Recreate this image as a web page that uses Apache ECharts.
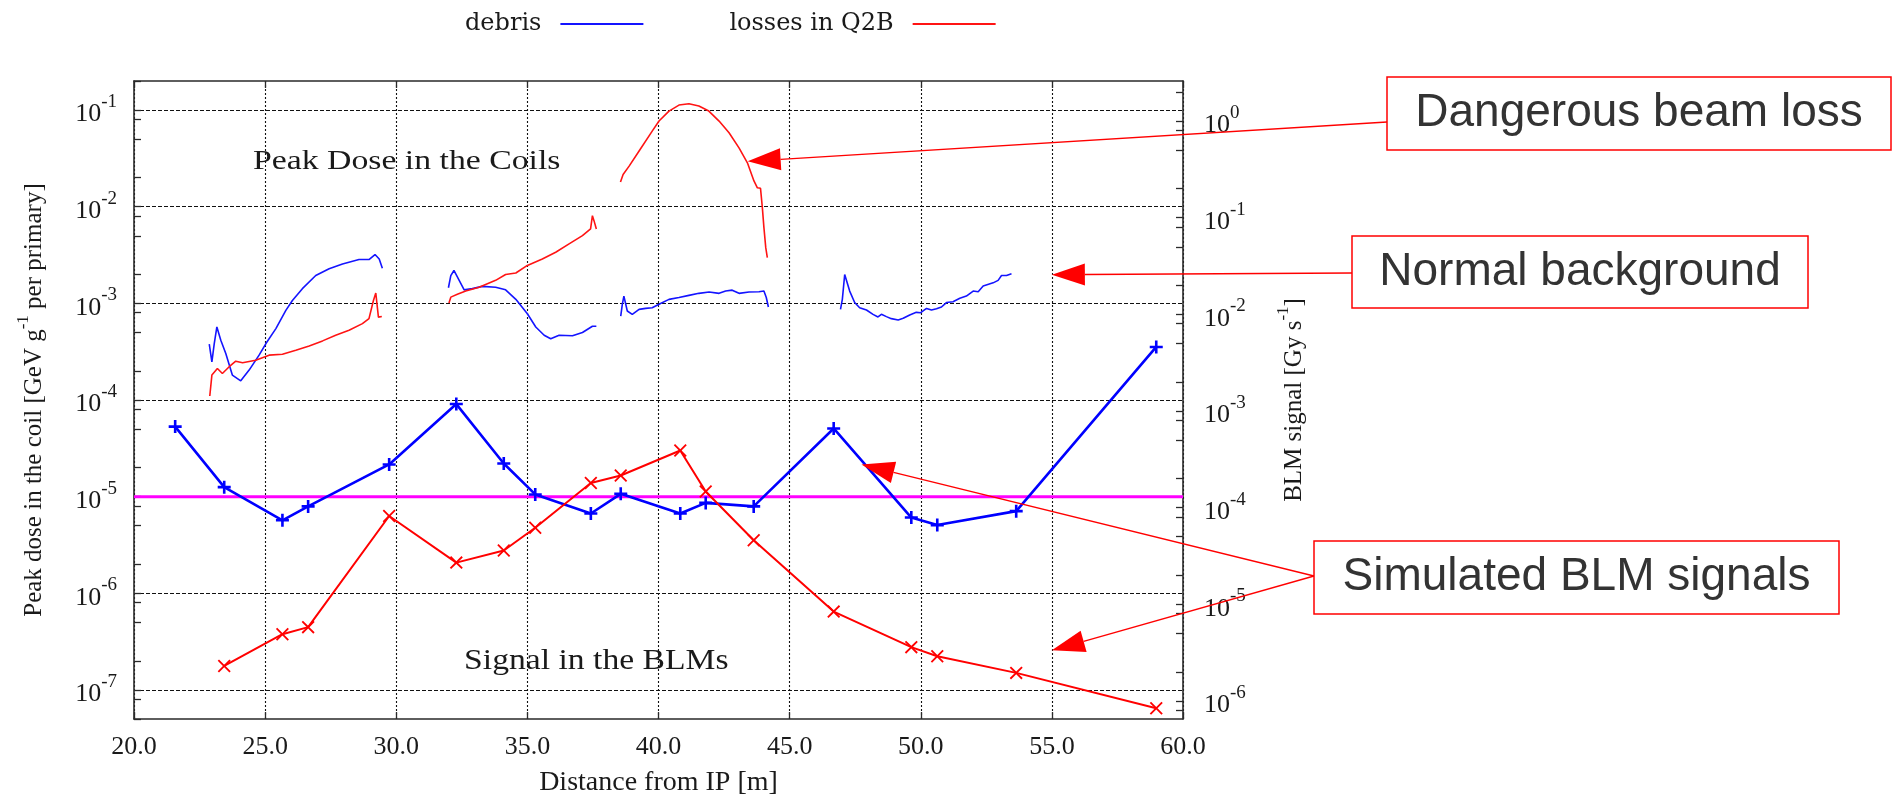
<!DOCTYPE html>
<html>
<head>
<meta charset="utf-8">
<title>Peak dose in the coils and BLM signals</title>
<script src="https://cdn.jsdelivr.net/npm/echarts@6/dist/echarts.min.js"></script>
<style>
  html, body { margin: 0; padding: 0; background: #ffffff; }
  #chart { width: 1894px; height: 795px; }
</style>
</head>
<body>
<div id="chart"></div>
<script>
// ---------------------------------------------------------------------------
// Data
// ---------------------------------------------------------------------------

// Peak dose in the coils [GeV g^-1 per primary], one array per magnet stretch:
// [distance from IP (m), dose]
const debrisSegments = [
  [[22.87,3.78e-4],[22.97,2.48e-4],[23.06,3.84e-4],[23.16,5.7e-4],[23.31,4.16e-4],[23.50,3.03e-4],
   [23.75,1.81e-4],[24.07,1.58e-4],[24.39,2.04e-4],[24.77,2.91e-4],[25.03,3.84e-4],[25.41,5.48e-4],
   [25.79,8.47e-4],[26.04,1.07e-3],[26.42,1.42e-3],[26.93,1.94e-3],[27.44,2.28e-3],[27.95,2.56e-3],
   [28.58,2.84e-3],[28.96,2.84e-3],[29.19,3.2e-3],[29.35,2.88e-3],[29.47,2.31e-3]],
  [[31.99,1.45e-3],[32.08,1.94e-3],[32.20,2.19e-3],[32.40,1.73e-3],[32.59,1.38e-3],[32.90,1.42e-3],
   [33.28,1.50e-3],[33.79,1.47e-3],[34.17,1.38e-3],[34.56,1.10e-3],[35.00,7.8e-4],[35.32,5.7e-4],
   [35.64,4.68e-4],[35.89,4.30e-4],[36.21,4.68e-4],[36.72,4.62e-4],[37.10,5.0e-4],[37.48,5.8e-4],
   [37.63,5.8e-4]],
  [[38.56,7.39e-4],[38.62,9.77e-4],[38.68,1.19e-3],[38.81,8.34e-4],[39.00,7.69e-4],[39.26,8.67e-4],
   [39.51,8.87e-4],[39.76,9.02e-4],[40.02,9.77e-4],[40.40,1.10e-3],[40.78,1.15e-3],[41.16,1.21e-3],
   [41.54,1.27e-3],[41.93,1.31e-3],[42.31,1.27e-3],[42.56,1.34e-3],[42.81,1.37e-3],[43.07,1.27e-3],
   [43.45,1.31e-3],[43.83,1.32e-3],[44.02,1.34e-3],[44.11,1.15e-3],[44.19,9.17e-4]],
  [[46.94,8.67e-4],[47.01,1.10e-3],[47.10,1.99e-3],[47.17,1.99e-3],[47.29,1.34e-3],[47.48,1.02e-3],
   [47.67,9.02e-4],[47.93,8.53e-4],[48.18,7.7e-4],[48.37,7.23e-4],[48.50,7.7e-4],[48.69,7.29e-4],
   [48.88,6.95e-4],[49.14,6.73e-4],[49.33,7.0e-4],[49.58,7.59e-4],[49.83,8.07e-4],[50.00,8.01e-4],
   [50.22,8.87e-4],[50.41,8.53e-4],[50.60,8.81e-4],[50.79,9.17e-4],[50.98,1.02e-3],[51.23,1.04e-3],
   [51.49,1.13e-3],[51.74,1.19e-3],[52.00,1.34e-3],[52.19,1.32e-3],[52.38,1.51e-3],[52.76,1.63e-3],
   [52.95,1.73e-3],[53.08,1.94e-3],[53.27,1.94e-3],[53.46,2.02e-3]]
];

const lossSegments = [
  [[22.89,1.1e-4],[22.97,1.81e-4],[23.18,2.12e-4],[23.37,1.88e-4],[23.63,2.21e-4],[23.88,2.52e-4],
   [24.14,2.43e-4],[24.64,2.58e-4],[25.15,2.91e-4],[25.66,2.98e-4],[26.17,3.27e-4],[26.68,3.63e-4],
   [27.19,4.09e-4],[27.69,4.68e-4],[28.20,5.27e-4],[28.71,6.17e-4],[28.96,6.95e-4],[29.13,1.07e-3],
   [29.22,1.28e-3],[29.32,7.2e-4],[29.45,7.3e-4]],
  [[32.01,1.01e-3],[32.08,1.16e-3],[32.33,1.24e-3],[32.65,1.34e-3],[33.16,1.47e-3],[33.79,1.73e-3],
   [34.17,1.99e-3],[34.56,2.06e-3],[35.00,2.47e-3],[35.57,2.88e-3],[36.08,3.38e-3],[36.59,4.12e-3],
   [37.10,5.02e-3],[37.41,5.89e-3],[37.48,8.07e-3],[37.54,7.18e-3],[37.63,5.89e-3]],
  [[38.55,1.8e-2],[38.65,2.16e-2],[38.88,2.63e-2],[39.26,3.77e-2],[39.76,6.06e-2],[40.02,7.7e-2],
   [40.40,9.77e-2],[40.78,0.1127],[41.16,0.1164],[41.54,0.110],[41.92,9.77e-2],[42.31,7.7e-2],
   [42.69,5.83e-2],[43.07,4.07e-2],[43.39,2.85e-2],[43.64,1.85e-2],[43.77,1.57e-2],[43.89,1.55e-2],
   [43.96,9.78e-3],[44.02,6.07e-3],[44.09,3.77e-3],[44.15,2.97e-3]]
];

// Simulated BLM signals [Gy s^-1] at the monitor positions
const blmPositions = [21.57, 23.44, 25.66, 26.64, 29.73, 32.29, 34.10, 35.30, 37.42,
                      38.56, 40.83, 41.80, 43.63, 46.68, 49.64, 50.63, 53.64, 58.98];
const blmDebris = [6.9e-4, 1.63e-4, 7.4e-5, 1.03e-4, 2.8e-4, 1.18e-3, 2.86e-4, 1.37e-4, 8.7e-5,
                   1.39e-4, 8.7e-5, 1.12e-4, 1.03e-4, 6.6e-4, 7.9e-5, 6.6e-5, 9.2e-5, 4.6e-3];
const blmLosses = [null, 2.3e-6, 4.9e-6, 5.8e-6, 8.2e-5, 2.7e-5, 3.6e-5, 6.2e-5, 1.8e-4,
                   2.15e-4, 3.9e-4, 1.47e-4, 4.6e-5, 8.4e-6, 3.6e-6, 2.9e-6, 1.95e-6, 8.4e-7];

// Dose level drawn as the horizontal reference line
const thresholdDose = 1.0e-5;

// Axis ranges and tick values
const distanceRange = [20, 60];
const doseRange = [5e-8, 0.2];
const blmPerDose = 13;                      // BLM signal per unit coil dose
const doseDecades = [1e-7, 1e-6, 1e-5, 1e-4, 1e-3, 1e-2, 1e-1];
const blmDecades = [1e-6, 1e-5, 1e-4, 1e-3, 1e-2, 1e-1, 1e0];
const minorMultipliers = [2, 5, 8];

// ---------------------------------------------------------------------------
// Helpers
// ---------------------------------------------------------------------------
function joinSegments(segs) {
  const out = [];
  segs.forEach((s, i) => {
    if (i > 0) out.push([(segs[i - 1][segs[i - 1].length - 1][0] + s[0][0]) / 2, null]);
    s.forEach(p => out.push(p));
  });
  return out;
}
function minorTicks(decades) {
  const out = [];
  const first = decades[0] / 10;
  [first].concat(decades).forEach(d => minorMultipliers.forEach(m => out.push(d * m)));
  return out;
}
function powLabel(v) {
  const e = Math.round(Math.log10(v));
  return '{b|10}{s|' + e + '}';
}

const SERIF = 'Liberation Serif';
const TEXT = '#1a1a1a';
const AXIS = '#2a2a2a';
const GRIDLINE = '#111111';
const powRich = {
  b: { fontFamily: SERIF, fontSize: 26, lineHeight: 35, verticalAlign: 'bottom', color: TEXT },
  s: { fontFamily: SERIF, fontSize: 19, lineHeight: 20, verticalAlign: 'top', color: TEXT }
};
const nameRich = {
  a: { fontFamily: SERIF, fontSize: 25, lineHeight: 32, verticalAlign: 'bottom', color: TEXT },
  s: { fontFamily: SERIF, fontSize: 17, lineHeight: 18, verticalAlign: 'top', color: TEXT }
};

const plusPath = 'path://M4,0 H6 V4 H10 V6 H6 V10 H4 V6 H0 V4 H4 Z';
const crossPath = 'path://M0,1 L1,0 L5,4 L9,0 L10,1 L6,5 L10,9 L9,10 L5,6 L1,10 L0,9 L4,5 Z';

const blmRange = [doseRange[0] * blmPerDose, doseRange[1] * blmPerDose];

function logAxis(opts) {
  return Object.assign({
    type: 'log',
    logBase: 10,
    nameMoveOverlap: false,
    axisLine: { show: false },
    axisTick: { show: false },
    axisLabel: { show: false },
    splitLine: { show: false }
  }, opts);
}

// ---------------------------------------------------------------------------
// Chart
// ---------------------------------------------------------------------------
const chart = echarts.init(document.getElementById('chart'));

const option = {
  animation: false,
  backgroundColor: '#ffffff',
  grid: { left: 134, right: 711, top: 81, bottom: 76, containLabel: false, outerBoundsMode: 'none' },
  legend: {
    left: 460, top: 7,
    align: 'right',
    itemWidth: 83, itemHeight: 2, itemGap: 86,
    selectedMode: false,
    textStyle: { fontFamily: 'DejaVu Serif', fontSize: 24, color: TEXT, padding: [0, 14, 0, 0] },
    data: [
      { name: 'debris', icon: 'rect' },
      { name: 'losses in Q2B', icon: 'rect' }
    ]
  },
  xAxis: [
    {
      type: 'value', position: 'bottom',
      min: distanceRange[0], max: distanceRange[1], interval: 5,
      name: 'Distance from IP [m]', nameLocation: 'middle', nameGap: 50,
      nameMoveOverlap: false,
      nameTextStyle: { fontFamily: SERIF, fontSize: 28, color: TEXT },
      axisLine: { show: true, onZero: false, lineStyle: { color: AXIS, width: 1.6 } },
      axisTick: { show: true, inside: true, length: 7, lineStyle: { color: AXIS, width: 1.3 } },
      axisLabel: { formatter: v => v.toFixed(1), margin: 15, fontFamily: SERIF, fontSize: 26, color: TEXT },
      splitLine: { show: true, lineStyle: { color: GRIDLINE, width: 1.1, type: [2, 2] } }
    },
    {
      type: 'value', position: 'top',
      min: distanceRange[0], max: distanceRange[1], interval: 5,
      axisLine: { show: true, onZero: false, lineStyle: { color: AXIS, width: 1.6 } },
      axisTick: { show: true, inside: true, length: 7, lineStyle: { color: AXIS, width: 1.3 } },
      axisLabel: { show: false },
      splitLine: { show: false }
    }
  ],
  yAxis: [
    logAxis({
      position: 'left', min: doseRange[0], max: doseRange[1],
      name: '{a|Peak dose in the coil [GeV g}{s|-1}{a| per primary]}',
      nameLocation: 'middle', nameRotate: 90, nameGap: 87,
      nameTextStyle: { fontFamily: SERIF, fontSize: 25, color: TEXT, rich: nameRich },
      axisLine: { show: true, lineStyle: { color: AXIS, width: 1.6 } },
      axisTick: { show: true, inside: true, length: 7, customValues: doseDecades,
                  lineStyle: { color: AXIS, width: 1.3 } },
      axisLabel: { show: true, customValues: doseDecades, formatter: powLabel, margin: 17, rich: powRich },
      splitLine: { show: true, lineStyle: { color: GRIDLINE, width: 1.1, type: [4, 2] } }
    }),
    logAxis({
      position: 'right', min: blmRange[0], max: blmRange[1],
      name: '{a|BLM signal [Gy s}{s|-1}{a|]}',
      nameLocation: 'middle', nameRotate: 90, nameGap: 92,
      nameTextStyle: { fontFamily: SERIF, fontSize: 25, color: TEXT, rich: nameRich },
      axisLine: { show: true, lineStyle: { color: AXIS, width: 1.6 } },
      axisTick: { show: true, inside: true, length: 7, customValues: blmDecades,
                  lineStyle: { color: AXIS, width: 1.3 } },
      axisLabel: { show: true, customValues: blmDecades, formatter: powLabel, margin: 21, rich: powRich }
    }),
    logAxis({
      position: 'left', min: doseRange[0], max: doseRange[1],
      axisTick: { show: true, inside: true, length: 7, customValues: minorTicks(doseDecades),
                  lineStyle: { color: AXIS, width: 1.3 } }
    }),
    logAxis({
      position: 'right', min: blmRange[0], max: blmRange[1],
      axisTick: { show: true, inside: true, length: 7, customValues: minorTicks(blmDecades),
                  lineStyle: { color: AXIS, width: 1.3 } }
    })
  ],
  series: [
    {
      name: 'debris', type: 'line', xAxisIndex: 0, yAxisIndex: 0,
      data: joinSegments(debrisSegments),
      symbol: 'none', connectNulls: false, z: 3,
      itemStyle: { color: '#1414ff' },
      lineStyle: { color: '#1414ff', width: 1.6 }
    },
    {
      name: 'losses in Q2B', type: 'line', xAxisIndex: 0, yAxisIndex: 0,
      data: joinSegments(lossSegments),
      symbol: 'none', connectNulls: false, z: 3,
      itemStyle: { color: '#ff1414' },
      lineStyle: { color: '#ff1414', width: 1.6 }
    },
    {
      name: 'threshold', type: 'line', xAxisIndex: 0, yAxisIndex: 0,
      data: [[distanceRange[0], thresholdDose], [distanceRange[1], thresholdDose]],
      symbol: 'none', z: 2,
      itemStyle: { color: '#ff00ff' },
      lineStyle: { color: '#ff00ff', width: 3 }
    },
    {
      name: 'BLM debris', type: 'line', xAxisIndex: 0, yAxisIndex: 1,
      data: blmPositions.map((x, i) => [x, blmDebris[i]]),
      symbol: plusPath, symbolSize: 13, z: 4,
      itemStyle: { color: '#0000ff' },
      lineStyle: { color: '#0000ff', width: 2.6 }
    },
    {
      name: 'BLM losses', type: 'line', xAxisIndex: 0, yAxisIndex: 1,
      data: blmPositions.map((x, i) => [x, blmLosses[i]]).filter(p => p[1] !== null),
      symbol: crossPath, symbolSize: 13, z: 4,
      itemStyle: { color: '#ff0000' },
      lineStyle: { color: '#ff0000', width: 2 }
    }
  ]
};

chart.setOption(option);

// ---------------------------------------------------------------------------
// Annotations: in-plot captions, callout boxes and arrows
// ---------------------------------------------------------------------------
const toPx = (seriesIndex, pt) => chart.convertToPixel({ seriesIndex: seriesIndex }, pt);

const ARROW = '#ff0000';
const HEAD_LEN = 33, HEAD_HALF = 11;

function arrow(tip, tail) {
  const dx = tail[0] - tip[0], dy = tail[1] - tip[1];
  const len = Math.hypot(dx, dy);
  const ux = dx / len, uy = dy / len;
  const base = [tip[0] + ux * HEAD_LEN, tip[1] + uy * HEAD_LEN];
  const px = -uy * HEAD_HALF, py = ux * HEAD_HALF;
  return [
    { type: 'line', z: 50, shape: { x1: base[0], y1: base[1], x2: tail[0], y2: tail[1] },
      style: { stroke: ARROW, lineWidth: 1.3 } },
    { type: 'polygon', z: 51,
      shape: { points: [tip, [base[0] + px, base[1] + py], [base[0] - px, base[1] - py]] },
      style: { fill: ARROW } }
  ];
}

function callout(x, y, w, h, text) {
  return [
    { type: 'rect', z: 60, shape: { x: x, y: y, width: w, height: h },
      style: { fill: '#ffffff', stroke: ARROW, lineWidth: 1.5 } },
    { type: 'text', z: 61, x: x + w / 2, y: y + h / 2,
      style: { text: text, fontFamily: 'Liberation Sans', fontSize: 46, fill: '#333333',
               align: 'center', verticalAlign: 'middle' } }
  ];
}

function caption(pt, text, size, stretch) {
  const p = toPx(0, pt);
  return { type: 'text', z: 20, x: p[0], y: p[1], scaleX: stretch, scaleY: 1,
           style: { text: text, fontFamily: SERIF, fontSize: size, fill: TEXT,
                    align: 'center', verticalAlign: 'middle' } };
}

const graphics = [].concat(
  caption([30.4, 0.029], 'Peak Dose in the Coils', 27, 1.25),
  caption([37.63, 1.96e-7], 'Signal in the BLMs', 29, 1.16),
  arrow(toPx(1, [43.4, 0.0295]), [1387, 122]),
  arrow(toPx(0, [55.0, 1.98e-3]), [1352, 273]),
  arrow(toPx(3, [47.74, 2.8e-4]), [1314, 576]),
  arrow(toPx(4, [55.0, 3.34e-6]), [1314, 576]),
  callout(1387, 77, 504, 73, 'Dangerous beam loss'),
  callout(1352, 236, 456, 72, 'Normal background'),
  callout(1314, 541, 525, 73, 'Simulated BLM signals')
);

chart.setOption({ graphic: graphics });
</script>
</body>
</html>
